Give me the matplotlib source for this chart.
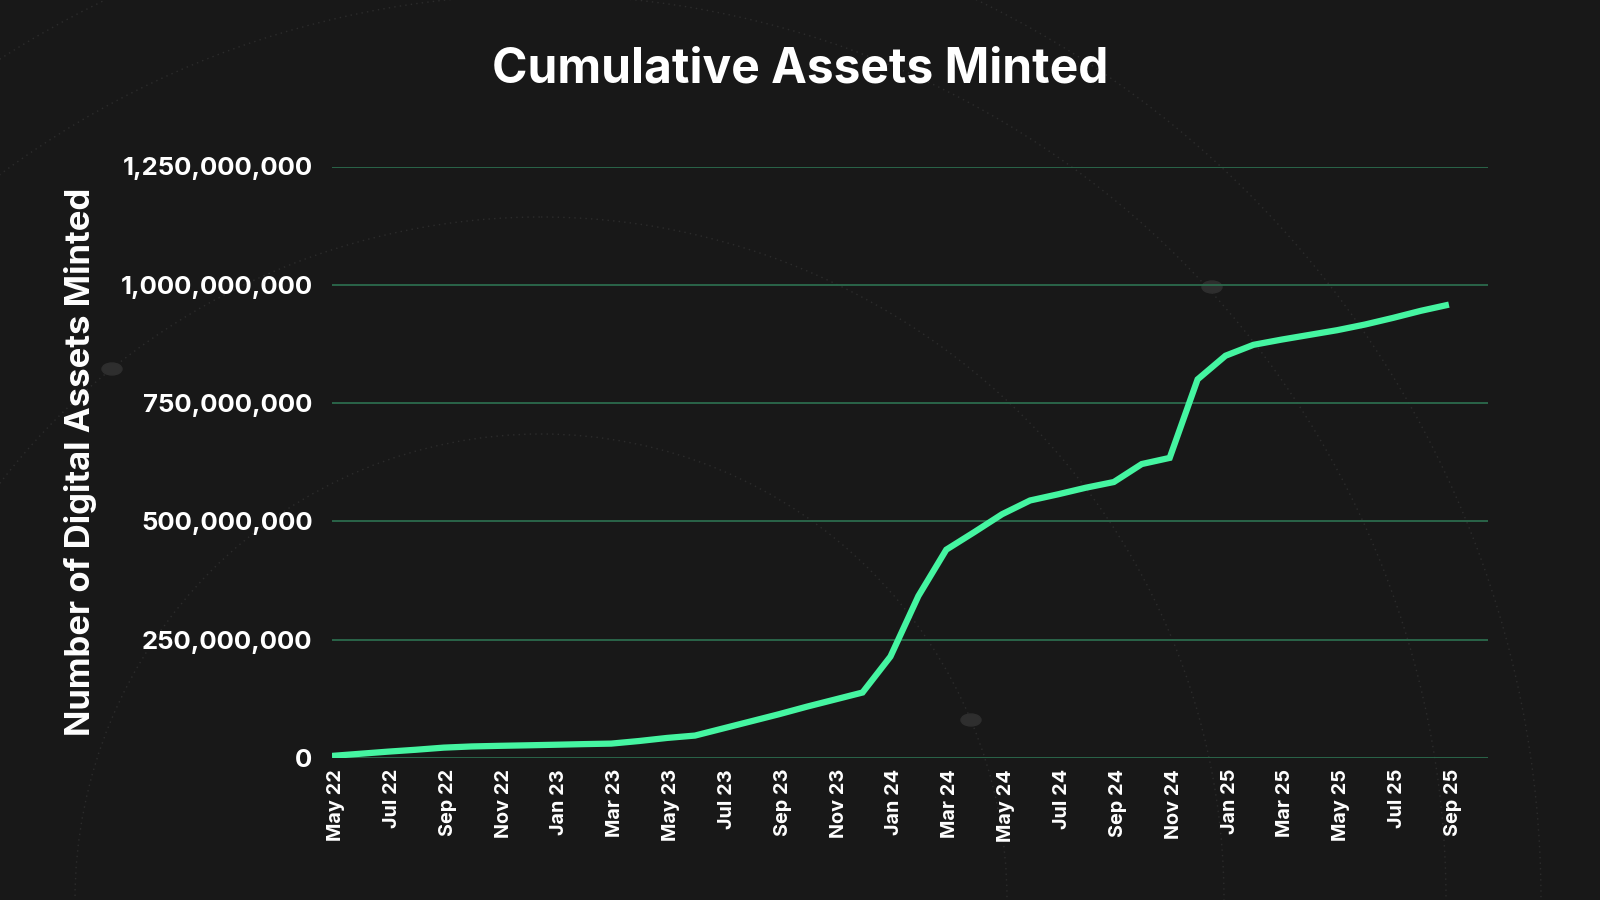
import matplotlib
matplotlib.use("Agg")
from matplotlib import pyplot as plt
from matplotlib.ticker import FuncFormatter
from matplotlib.patches import Circle, Ellipse
import matplotlib.transforms as mtransforms

# monthly cumulative totals, May 22 .. Sep 25
months = ["May 22", "Jun 22", "Jul 22", "Aug 22", "Sep 22", "Oct 22", "Nov 22", "Dec 22",
          "Jan 23", "Feb 23", "Mar 23", "Apr 23", "May 23", "Jun 23", "Jul 23", "Aug 23",
          "Sep 23", "Oct 23", "Nov 23", "Dec 23", "Jan 24", "Feb 24", "Mar 24", "Apr 24",
          "May 24", "Jun 24", "Jul 24", "Aug 24", "Sep 24", "Oct 24", "Nov 24", "Dec 24",
          "Jan 25", "Feb 25", "Mar 25", "Apr 25", "May 25", "Jun 25", "Jul 25", "Aug 25",
          "Sep 25"]
assets = [4e6, 8.5e6, 13e6, 17e6, 21.5e6, 24e6, 25.3e6, 26.4e6,
          27.6e6, 28.9e6, 30e6, 35.5e6, 42e6, 47e6, 62e6, 77e6,
          92e6, 108e6, 123e6, 138e6, 214e6, 342e6, 440e6, 477e6,
          515e6, 544e6, 557e6, 571e6, 583e6, 621e6, 634e6, 800e6,
          850e6, 873e6, 884e6, 894e6, 904e6, 916e6, 930e6, 945e6,
          958e6]

bg = "#181818"
line_col = "#45F5A1"
grid_col = "#2B6A4D"

plt.rcParams['font.family'] = ['Inter', 'DejaVu Sans']

fig = plt.figure(figsize=(16, 9), dpi=100, facecolor=bg)

# faint decorative rings behind everything (figure pixel space)
deco = fig.add_axes([0, 0, 1, 1], zorder=0)
deco.set_xlim(0, 1600)
deco.set_ylim(900, 0)
deco.axis('off')
for r in [466, 683, 905, 1000]:
    deco.add_patch(Circle((541, 900), r, fill=False, edgecolor='#2c2c2c',
                          linewidth=1, linestyle=(0, (1, 3))))
for cx, cy in [(112, 369), (1212, 287), (971, 720)]:
    deco.add_patch(Ellipse((cx, cy), 20, 12, color='#2e2e2e'))

ax = fig.add_axes([0.2075, 0.158, 0.7225, 0.657], zorder=1)
ax.set_facecolor('none')

x = list(range(len(months)))
ax.plot(x, assets, color=line_col, linewidth=4.5, solid_capstyle='butt',
        solid_joinstyle='miter', zorder=3)

ax.set_xlim(0, 41.4)
ax.set_ylim(0, 1.25e9)
ax.set_yticks([0, 250e6, 500e6, 750e6, 1000e6, 1250e6])
ax.yaxis.set_major_formatter(FuncFormatter(lambda v, p: f"{int(v):,}"))
ax.set_xticks(x[::2])
ax.set_xticklabels(months[::2], rotation=90)

ax.grid(axis='y', color=grid_col, linewidth=1.3)
ax.set_axisbelow(True)
for s in ax.spines.values():
    s.set_visible(False)

ax.tick_params(axis='y', length=0, pad=14, labelsize=18.5, labelcolor='white')
ax.tick_params(axis='x', length=0, pad=8, labelsize=14.3, labelcolor='white')
shift = mtransforms.ScaledTranslation(4 / 100, 0, fig.dpi_scale_trans)
for lbl in ax.get_xticklabels():
    lbl.set_transform(lbl.get_transform() + shift)
for lbl in ax.get_yticklabels() + ax.get_xticklabels():
    lbl.set_fontweight('bold')

ax.set_ylabel("Number of Digital Assets Minted", color='white', fontsize=25,
              fontweight='bold', labelpad=17)
fig.text(0.5, 0.923, "Cumulative Assets Minted", color='white', fontsize=34.5,
         fontweight='bold', ha='center', va='center')

fig.savefig("out.png", dpi=100, facecolor=bg)
